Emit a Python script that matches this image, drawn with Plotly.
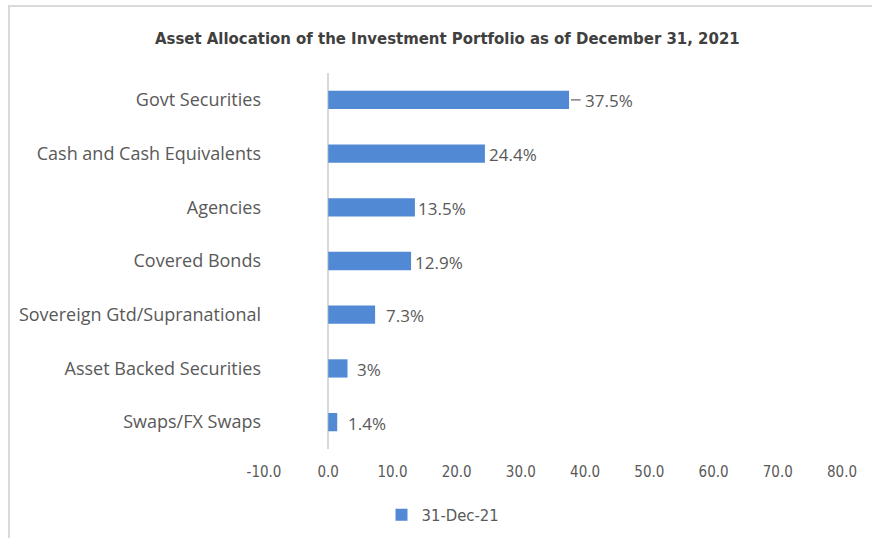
import plotly.graph_objects as go

categories = ["Govt Securities", "Cash and Cash Equivalents", "Agencies", "Covered Bonds",
              "Sovereign Gtd/Supranational", "Asset Backed Securities", "Swaps/FX Swaps"]
values = [37.5, 24.4, 13.5, 12.9, 7.3, 3.0, 1.4]
labels = ["37.5%", "24.4%", "13.5%", "12.9%", "7.3%", "3%", "1.4%"]
series_name = "31-Dec-21"
tick_vals = [-10, 0, 10, 20, 30, 40, 50, 60, 70, 80]
tick_text = ["-10.0", "0.0", "10.0", "20.0", "30.0", "40.0", "50.0", "60.0", "70.0", "80.0"]

# label offsets in px (style only)
label_shift = [14, 2, 1, 2, 9, 8, 9]

BAR = "#5289D4"
GRAY = "#595959"
NARROW = "DejaVu Sans Condensed, Liberation Sans Narrow, Roboto, sans-serif"
W, H = 872, 538
ml, mr, mt, mb = 264, 30, 73, 89

fig = go.Figure()
fig.add_trace(go.Bar(
    y=categories, x=values, orientation="h", name=series_name,
    marker=dict(color=BAR, line=dict(width=0)),
    showlegend=True,
))

for cat, v, lab, sh in zip(categories, values, labels, label_shift):
    fig.add_annotation(x=v, y=cat, xref="x", yref="y", text=lab, showarrow=False,
                       xanchor="left", yanchor="middle", xshift=sh, yshift=-1,
                       font=dict(family="Open Sans", size=17, color=GRAY))

# leader line for the first (offset) label
fig.add_shape(type="line", xref="x", yref="y",
              x0=values[0] + 0.3, x1=values[0] + 1.8, y0=categories[0], y1=categories[0],
              line=dict(color="#7F7F7F", width=1.5))

def px_to_paper_x(px):
    return (px - ml) / (W - ml - mr)

def px_to_paper_y(py):
    return (H - mb - py) / (H - mt - mb)

# chart frame (top and left edges)
fig.add_shape(type="line", xref="paper", yref="paper",
              x0=px_to_paper_x(8), x1=px_to_paper_x(W), y0=px_to_paper_y(6), y1=px_to_paper_y(6),
              line=dict(color="#D9D9D9", width=2))
fig.add_shape(type="line", xref="paper", yref="paper",
              x0=px_to_paper_x(9), x1=px_to_paper_x(9), y0=px_to_paper_y(6), y1=px_to_paper_y(H),
              line=dict(color="#D9D9D9", width=2))

fig.update_layout(
    width=W, height=H,
    margin=dict(l=ml, r=mr, t=mt, b=mb, autoexpand=False),
    paper_bgcolor="white", plot_bgcolor="white",
    bargap=0.66,
    title=dict(text="<b>Asset Allocation of the Investment Portfolio as of December 31, 2021</b>",
               x=0.513, xanchor="center", y=1 - 38 / H, yanchor="middle",
               font=dict(family=NARROW, size=16.6, color="#404040")),
    xaxis=dict(range=[-10, 80], tickvals=tick_vals, ticktext=tick_text,
               showgrid=False, zeroline=True, zerolinecolor="#D9D9D9", zerolinewidth=2,
               showline=False, ticks="", ticklabelstandoff=12,
               tickfont=dict(family=NARROW, size=15, color=GRAY)),
    yaxis=dict(categoryorder="array", categoryarray=categories[::-1],
               showgrid=False, showline=False, ticks="", zeroline=False,
               ticklabelstandoff=2,
               tickfont=dict(family="Open Sans", size=18, color=GRAY)),
    legend=dict(orientation="h", x=px_to_paper_x(443), xanchor="center",
                y=px_to_paper_y(515), yanchor="middle",
                font=dict(family=NARROW, size=16.5, color=GRAY),
                itemwidth=30, bgcolor="rgba(0,0,0,0)"),
)

fig.write_html("out.html", post_script="document.body.style.margin='0';",
               config={"displayModeBar": False})
